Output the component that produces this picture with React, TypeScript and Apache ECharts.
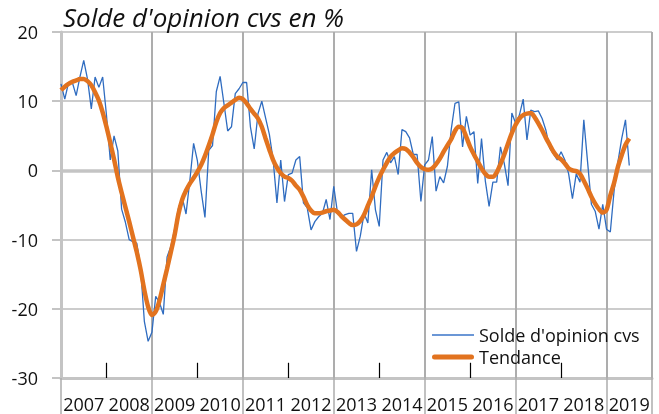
import React, { useEffect, useRef } from "react";
import * as echarts from "echarts";

const years = ["2007", "2008", "2009", "2010", "2011", "2012", "2013", "2014", "2015", "2016", "2017", "2018", "2019"];

// Monthly values, Jan 2007 -> Jul 2019
const solde = [
  12.5, 10.3, 12.7, 12.7, 10.8, 13.5, 15.9, 13.2, 8.9, 13.5, 12.0, 13.5,
  8.0, 1.5, 5.0, 2.8, -5.6, -7.5, -10.0, -10.3, -10.5, -14.0, -21.8, -24.7,
  -23.4, -18.2, -19.1, -20.8, -12.5, -11.0, -8.5, -5.5, -3.9, -6.3, -1.5, 3.9,
  1.4, -3.0, -6.8, 2.9, 3.6, 11.4, 13.6, 9.7, 5.7, 6.3, 11.1, 11.8,
  12.7, 12.7, 6.3, 3.1, 8.2, 10.0, 7.6, 5.2, 1.5, -4.7, 1.5, -4.5,
  -0.6, -0.4, 1.5, 2.0, -4.7, -5.4, -8.6, -7.4, -6.7, -6.2, -4.2, -7.1,
  -2.3, -6.2, -6.7, -6.4, -6.2, -6.2, -11.7, -9.5, -6.2, -7.6, 0.1, -5.7,
  -8.1, 1.5, 2.6, 1.1, 2.0, -0.6, 5.9, 5.6, 4.7, 2.3, 2.3, -4.5,
  0.8, 1.5, 4.9, -3.0, -0.9, -1.8, 0.6, 5.9, 9.7, 9.9, 3.4, 7.8,
  5.1, 5.6, -1.9, 4.6, -1.5, -5.2, -1.7, -1.7, 3.4, 1.0, -2.2, 8.3,
  6.8, 8.0, 10.3, 4.4, 8.7, 8.5, 8.6, 7.5, 5.8, 3.2, 2.4, 1.5,
  2.7, 1.5, -0.5, -4.1, -0.5, -1.7, 7.3, 1.2, -4.9, -5.9, -8.5, -4.9,
  -8.5, -8.9, -2.9, 1.2, 4.6, 7.3, 0.7,
];

const tendance = [
  11.6, 12.1, 12.5, 12.8, 13.0, 13.2, 13.2, 12.9, 12.3, 11.3, 10.1, 8.4,
  6.3, 4.0, 1.6, -1.0, -3.2, -5.3, -7.4, -9.6, -11.8, -14.3, -17.3, -19.7,
  -20.9, -20.4, -18.8, -16.5, -14.2, -11.8, -9.3, -6.3, -4.2, -2.9, -1.9, -1.1,
  -0.2, 0.8, 2.1, 3.6, 5.2, 7.0, 8.3, 9.0, 9.4, 9.8, 10.2, 10.5,
  10.3, 9.7, 8.9, 8.2, 7.5, 6.3, 4.6, 3.0, 1.5, 0.4, -0.4, -0.9,
  -1.1, -1.5, -2.2, -2.8, -3.8, -5.0, -5.8, -6.2, -6.2, -6.1, -5.9, -5.8,
  -5.7, -6.0, -6.6, -7.1, -7.6, -7.9, -7.8, -7.3, -6.4, -5.1, -3.8, -2.3,
  -1.0, 0.1, 1.1, 2.0, 2.5, 2.9, 3.2, 3.1, 2.6, 1.9, 1.1, 0.5,
  0.2, 0.1, 0.3, 0.9, 1.7, 2.7, 3.6, 4.5, 5.7, 6.3, 6.1, 4.8,
  3.4, 2.3, 1.3, 0.3, -0.5, -0.9, -0.9, -0.3, 0.9, 2.3, 3.9, 5.4,
  6.6, 7.5, 8.0, 8.2, 8.3, 7.7, 6.8, 5.8, 4.7, 3.7, 2.7, 2.0,
  1.6, 1.0, 0.3, 0.0, -0.1, -0.5, -1.5, -2.6, -3.8, -4.8, -5.6, -6.1,
  -5.7, -3.6, -1.8, 0.5, 2.2, 3.7, 4.6,
];

const monthsTotal = years.length * 12;
const yMin = -30;
const yMax = 20;
const yStep = 10;

export default function App() {
  const ref = useRef<HTMLDivElement>(null);
  useEffect(() => {
    const chart = echarts.init(ref.current!, null, { renderer: "svg" });
    const font = "'Open Sans', Lato, sans-serif";
    const grayAxis = "#c4c4c4";
    const grayGrid = "#cccccc";
    const grayVertical = "#adadad";

    const gridLineMonths: number[] = [];
    const blackTickMonths: number[] = [];
    years.forEach((_, i) => {
      if (i === 0) return;
      if (i % 2 === 0) gridLineMonths.push(i * 12);
      else blackTickMonths.push(i * 12);
    });
    gridLineMonths.push(monthsTotal);

    const markData: any[] = [
      { yAxis: 0, lineStyle: { color: grayAxis, width: 3.5, type: "solid" } },
      ...gridLineMonths.map((m) => [
        { coord: [m, yMin], lineStyle: { color: grayVertical, width: 2, type: "solid" } },
        { coord: [m, yMax] },
      ]),
      ...blackTickMonths.map((m) => [
        { coord: [m, yMin], lineStyle: { color: "#000", width: 1.2, type: "solid" } },
        { coord: [m, yMin + 2.2] },
      ]),
    ];

    chart.setOption({
      animation: false,
      textStyle: { fontFamily: font },
      title: {
        text: "Solde d'opinion cvs en %",
        left: 58,
        top: -1,
        textStyle: { fontStyle: "italic", fontWeight: "normal", fontSize: 26, color: "#111", fontFamily: font },
      },
      grid: { left: 61, right: 7, top: 32, bottom: 36, containLabel: false },
      legend: {
        orient: "vertical",
        left: 427,
        top: 321,
        itemWidth: 42,
        itemHeight: 12,
        itemGap: 4,
        symbolKeepAspect: true,
        textStyle: { fontSize: 18, color: "#111", fontFamily: font },
        itemStyle: { borderWidth: 0 },
        data: [
          { name: "Solde d'opinion cvs", icon: "path://M0 0H42V1.6H0Z" },
          { name: "Tendance", icon: "path://M2.5 0H39.5A2.5 2.5 0 0 1 39.5 5H2.5A2.5 2.5 0 0 1 2.5 0Z" },
        ],
      },
      xAxis: [
        {
          type: "category",
          data: years,
          position: "bottom",
          boundaryGap: true,
          axisLine: { show: true, onZero: false, lineStyle: { color: grayAxis, width: 3 } },
          axisTick: { show: true, length: 38, interval: 1, lineStyle: { color: grayVertical, width: 1.5 } },
          axisLabel: { interval: 0, fontSize: 18, color: "#111", margin: 17, fontFamily: font },
          splitLine: { show: false },
        },
        {
          type: "value",
          min: 0,
          max: monthsTotal,
          show: false,
        },
      ],
      yAxis: {
        type: "value",
        min: yMin,
        max: yMax,
        interval: yStep,
        axisLine: { show: true, lineStyle: { color: grayAxis, width: 3 } },
        axisTick: { show: true, length: 9, lineStyle: { color: grayAxis, width: 2 } },
        axisLabel: { fontSize: 18, color: "#111", margin: 23, fontFamily: font },
        splitLine: { show: true, lineStyle: { color: grayGrid, width: 2 } },
      },
      series: [
        {
          name: "Solde d'opinion cvs",
          type: "line",
          xAxisIndex: 1,
          data: solde.map((v, i) => [i, v]),
          symbol: "none",
          lineStyle: { color: "#2f6cc0", width: 1.3 },
          itemStyle: { color: "#3a74c8" },
          z: 3,
          markLine: {
            silent: true,
            symbol: "none",
            label: { show: false },
            data: markData,
            z: 1,
          },
        },
        {
          name: "Tendance",
          type: "line",
          xAxisIndex: 1,
          data: tendance.map((v, i) => [i, v]),
          symbol: "none",
          smooth: 0.3,
          lineStyle: { color: "#e2731f", width: 4.5 },
          itemStyle: { color: "#e2731f" },
          z: 4,
        },
      ],
    });
    return () => chart.dispose();
  }, []);
  return <div ref={ref} style={{ position: "fixed", left: 0, top: 0, width: 659, height: 414 }} />;
}
